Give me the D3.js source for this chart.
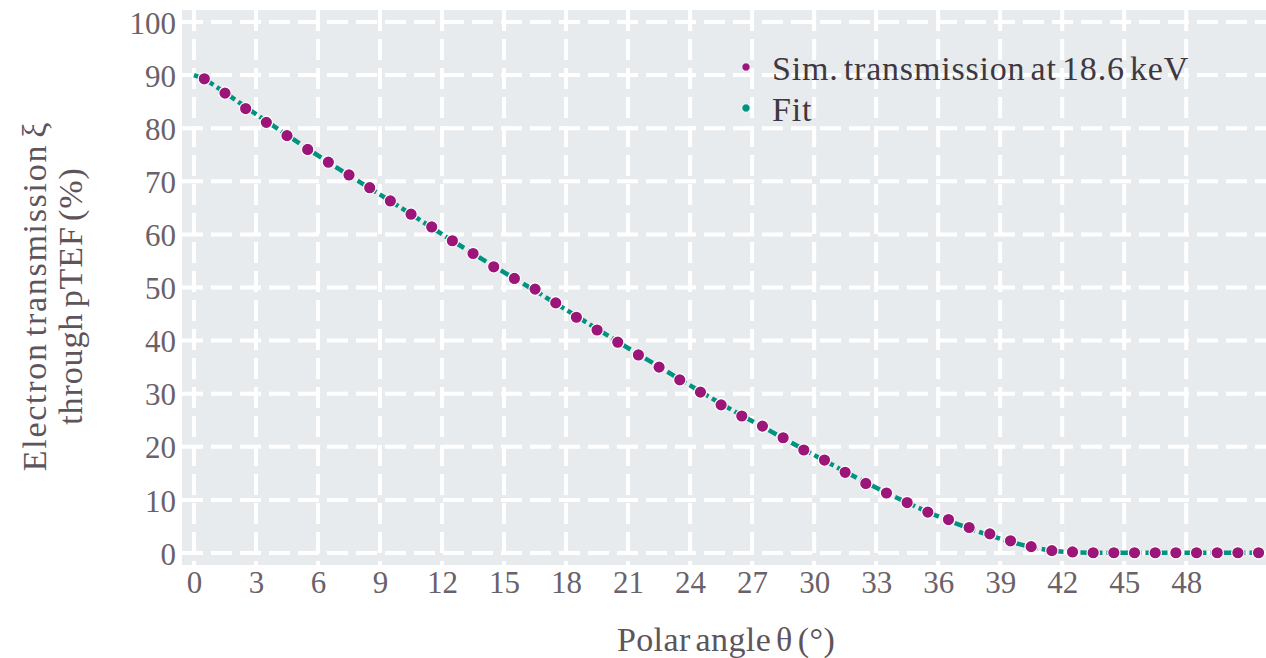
<!DOCTYPE html>
<html>
<head>
<meta charset="utf-8">
<script src="https://cdn.jsdelivr.net/npm/d3@7"></script>
<style>
  html, body { margin: 0; padding: 0; background: #ffffff; }
  svg { display: block; font-family: "Liberation Serif", "DejaVu Serif", serif; }
</style>
</head>
<body>
<svg id="chart" width="1266" height="658"></svg>
<script>
// Polar angle of the simulated electrons (degrees)
const angles = [0.5, 1.5, 2.5, 3.5, 4.5, 5.5, 6.5, 7.5, 8.5, 9.5,
  10.5, 11.5, 12.5, 13.5, 14.5, 15.5, 16.5, 17.5, 18.5, 19.5,
  20.5, 21.5, 22.5, 23.5, 24.5, 25.5, 26.5, 27.5, 28.5, 29.5,
  30.5, 31.5, 32.5, 33.5, 34.5, 35.5, 36.5, 37.5, 38.5, 39.5,
  40.5, 41.5, 42.5, 43.5, 44.5, 45.5, 46.5, 47.5, 48.5, 49.5,
  50.5, 51.5];

// Simulated transmission at 18.6 keV (%)
const transmission = [89.3, 86.6, 83.7, 81.1, 78.6, 76.0, 73.6, 71.2, 68.8, 66.3,
  63.8, 61.4, 58.8, 56.4, 53.9, 51.7, 49.7, 47.1, 44.4, 42.0,
  39.7, 37.3, 35.0, 32.6, 30.3, 27.9, 25.8, 23.9, 21.7, 19.4,
  17.5, 15.2, 13.1, 11.3, 9.5, 7.7, 6.3, 4.8, 3.6, 2.3,
  1.2, 0.45, 0.2, 0.05, 0.05, 0.05, 0.05, 0.05, 0.05, 0.05,
  0.05, 0.05];

// Fitted curve
const fitAngles = [0, 0.5, 1.5, 2.5, 3.5, 4.5, 5.5, 6.5, 7.5, 8.5, 9.5,
  10.5, 11.5, 12.5, 13.5, 14.5, 15.5, 16.5, 17.5, 18.5, 19.5,
  20.5, 21.5, 22.5, 23.5, 24.5, 25.5, 26.5, 27.5, 28.5, 29.5,
  30.5, 31.5, 32.5, 33.5, 34.5, 35.5, 36.5, 37.5, 38.5, 39.5,
  40.5, 41.5, 42.5, 43.5, 45.5, 47.5, 49.5, 51.5];
const fitValues = [90.0, 89.3, 86.7, 84.0, 81.3, 78.7, 76.1, 73.6, 71.1, 68.7, 66.3,
  63.8, 61.3, 58.8, 56.4, 54.0, 51.7, 49.4, 47.0, 44.6, 42.2,
  39.8, 37.4, 35.1, 32.7, 30.4, 28.1, 25.9, 23.8, 21.6, 19.5,
  17.4, 15.3, 13.3, 11.3, 9.5, 7.7, 6.1, 4.6, 3.3, 2.1,
  1.1, 0.4, 0.1, 0.05, 0.05, 0.05, 0.05, 0.05];

const xTicks = [0, 3, 6, 9, 12, 15, 18, 21, 24, 27, 30, 33, 36, 39, 42, 45, 48];
const yTicks = [0, 10, 20, 30, 40, 50, 60, 70, 80, 90, 100];

const legendLabels = ["Sim. transmission at 18.6 keV", "Fit"];

const simColor = "#9c1579";
const fitColor = "#00937f";
const plotBg = "#e8ebee";
const tickColor = "#6b6169";
const titleColor = "#5d545c";
const legendColor = "#40383f";

const plot = { left: 182, right: 1266, top: 10, bottom: 565 };

const svg = d3.select("#chart");

const x = d3.scaleLinear().domain([-0.58, 51.86]).range([plot.left, plot.right]);
const y = d3.scaleLinear().domain([-2.26, 102.26]).range([plot.bottom, plot.top]);

// plot background
svg.append("rect")
  .attr("x", plot.left).attr("y", plot.top)
  .attr("width", plot.right - plot.left).attr("height", plot.bottom - plot.top)
  .attr("fill", plotBg);

// dashed white grid
const grid = svg.append("g").attr("stroke", "#ffffff").attr("stroke-width", 4)
  .attr("stroke-dasharray", "21,8").attr("fill", "none");
grid.selectAll("line.gx").data(xTicks).join("line")
  .attr("class", "gx")
  .attr("x1", d => x(d)).attr("x2", d => x(d))
  .attr("y1", plot.top).attr("y2", plot.bottom);
grid.selectAll("line.gy").data(yTicks).join("line")
  .attr("class", "gy")
  .attr("x1", plot.left).attr("x2", plot.right)
  .attr("y1", d => y(d)).attr("y2", d => y(d));

// axes (tick labels only)
const xAxis = d3.axisBottom(x).tickValues(xTicks).tickSize(0).tickPadding(0).tickFormat(d3.format("d"));
const gx = svg.append("g").attr("transform", `translate(0,${plot.bottom})`).call(xAxis);
gx.select(".domain").remove();
gx.selectAll("text")
  .attr("y", 28).attr("dy", 0)
  .attr("font-family", "Liberation Serif, serif")
  .attr("font-size", 31).attr("fill", tickColor);

const yAxis = d3.axisLeft(y).tickValues(yTicks).tickSize(0).tickPadding(0).tickFormat(d3.format("d"));
const gy = svg.append("g").attr("transform", `translate(${plot.left - 6},0)`).call(yAxis);
gy.select(".domain").remove();
gy.selectAll("text")
  .attr("x", 0).attr("dy", "0.36em")
  .attr("font-family", "Liberation Serif, serif")
  .attr("font-size", 31).attr("fill", tickColor);

// fit curve
const line = d3.line().x((d, i) => x(fitAngles[i])).y(d => y(d));
svg.append("path")
  .datum(fitValues)
  .attr("d", line)
  .attr("fill", "none")
  .attr("stroke", fitColor)
  .attr("stroke-width", 4.5)
  .attr("stroke-dasharray", "9,4");

// simulated points
svg.append("g").selectAll("circle").data(transmission).join("circle")
  .attr("cx", (d, i) => x(angles[i]))
  .attr("cy", d => y(d))
  .attr("r", 6.2)
  .attr("fill", simColor)
  .attr("stroke", "#ffffff")
  .attr("stroke-width", 1.2);

// legend
const legend = svg.append("g").attr("transform", "translate(746,67)");
const legendColors = [simColor, fitColor];
legendLabels.forEach((label, i) => {
  const row = legend.append("g").attr("transform", `translate(0,${i * 41})`);
  row.append("circle").attr("r", 4.2).attr("fill", legendColors[i])
    .attr("stroke", "#ffffff").attr("stroke-width", 1);
  row.append("text")
    .attr("x", 26).attr("y", 13)
    .attr("font-size", 34)
    .attr("letter-spacing", 0.8)
    .attr("word-spacing", -4)
    .attr("fill", legendColor)
    .text(label);
});

// axis titles
svg.append("text")
  .attr("x", (plot.left + plot.right) / 2 + 2)
  .attr("y", 651)
  .attr("text-anchor", "middle")
  .attr("font-size", 34)
  .attr("letter-spacing", 0.4)
  .attr("word-spacing", -4)
  .attr("fill", titleColor)
  .text("Polar angle θ (°)");

const yTitle = svg.append("text")
  .attr("transform", "translate(0,296) rotate(-90)")
  .attr("text-anchor", "middle")
  .attr("font-size", 34)
  .attr("word-spacing", -4)
  .attr("fill", titleColor);
yTitle.append("tspan").attr("x", 0).attr("y", 46)
  .attr("letter-spacing", 1.7).text("Electron transmission ξ");
yTitle.append("tspan").attr("x", 0).attr("y", 82)
  .attr("letter-spacing", 0.9).text("through pTEF (%)");
</script>
</body>
</html>
